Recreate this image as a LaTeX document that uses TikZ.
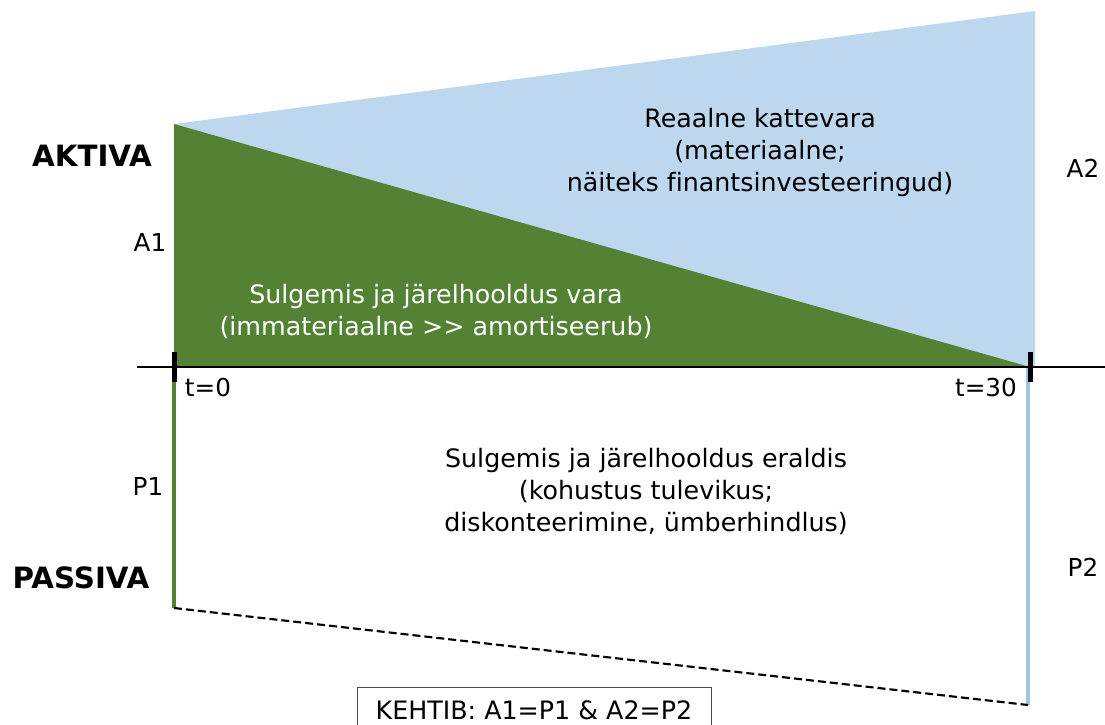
\documentclass[tikz,border=0pt]{standalone}
\usepackage{fontspec}
\setmainfont{DejaVu Sans}[Ligatures={TeX,NoCommon}]
\usepackage{tikz}
\usetikzlibrary{positioning}

\definecolor{assetgreen}{RGB}{84,130,53}
\definecolor{assetblue}{RGB}{189,215,238}
\definecolor{lineblue}{RGB}{157,195,230}

\begin{document}
\begin{tikzpicture}[
  x=0.75pt, y=-0.75pt,
  lbl/.style={font=\fontsize{18.5}{22}\selectfont, inner sep=1pt},
  sidelbl/.style={font=\fontsize{22}{26}\selectfont\bfseries, inner sep=1pt},
  areatext/.style={font=\fontsize{19}{24}\selectfont, align=center, inner sep=1pt},
  tick/.style={line width=3.75pt},
  axis/.style={line width=1.5pt}]
\useasboundingbox (0,0) rectangle (1105,724);

% corner points
\coordinate (top0) at (174,124);
\coordinate (base0) at (174,367);
\coordinate (base30) at (1030,367);
\coordinate (top30) at (1035,11);
\coordinate (bot30) at (1035,367);
\coordinate (p1end) at (174,608);
\coordinate (p2end) at (1028,705);
\coordinate (axl) at (137,367);
\coordinate (axr) at (1105,367);

% areas
\fill[assetblue] (top0) -- (top30) -- (bot30) -- (base0) -- cycle;
\fill[assetgreen] (top0) -- (base30) -- (base0) -- cycle;

% liabilities
\draw[assetgreen, line width=3pt] (base0) -- (p1end);
\draw[lineblue, line width=3pt] (1028,367) -- (p2end);
\draw[line width=1.6pt, dash pattern=on 6pt off 3pt] (p1end) -- (p2end);

% time axis
\draw[axis] (axl) -- (axr);
\draw[tick] (174,352) -- (174,382);
\draw[tick] (1030,352) -- (1030,382);

\node[lbl] (t0) at (208,388) {t=0};
\node[lbl] (t30) at (986,388) {t=30};

\node[sidelbl] (aktiva) at (92,156) {AKTIVA};
\node[sidelbl] (passiva) at (81,578) {PASSIVA};
\node[lbl] (a1) at (150,243) {A1};
\node[lbl] (a2) at (1083,168) {A2};
\node[lbl] (p1) at (148,487) {P1};
\node[lbl] (p2) at (1083,567) {P2};

\node[areatext] (real) at (760,153) {Reaalne kattevara\\(materiaalne;\\näiteks finantsinvesteeringud)};
\node[areatext, text=white] (closure) at (436,312) {Sulgemis ja järelhooldus vara\\(immateriaalne {>}{>} amortiseerub)};
\node[areatext] (provision) at (646,492) {Sulgemis ja järelhooldus eraldis\\(kohustus tulevikus;\\diskonteerimine, ümberhindlus)};

\draw[black!70, line width=0.75pt] (357,740) -- (357,687) -- (711,687) -- (711,740);
\node[lbl, font=\fontsize{19}{22}\selectfont] (rule) at (534,710) {KEHTIB: A1=P1 \& A2=P2};
\end{tikzpicture}
\end{document}
